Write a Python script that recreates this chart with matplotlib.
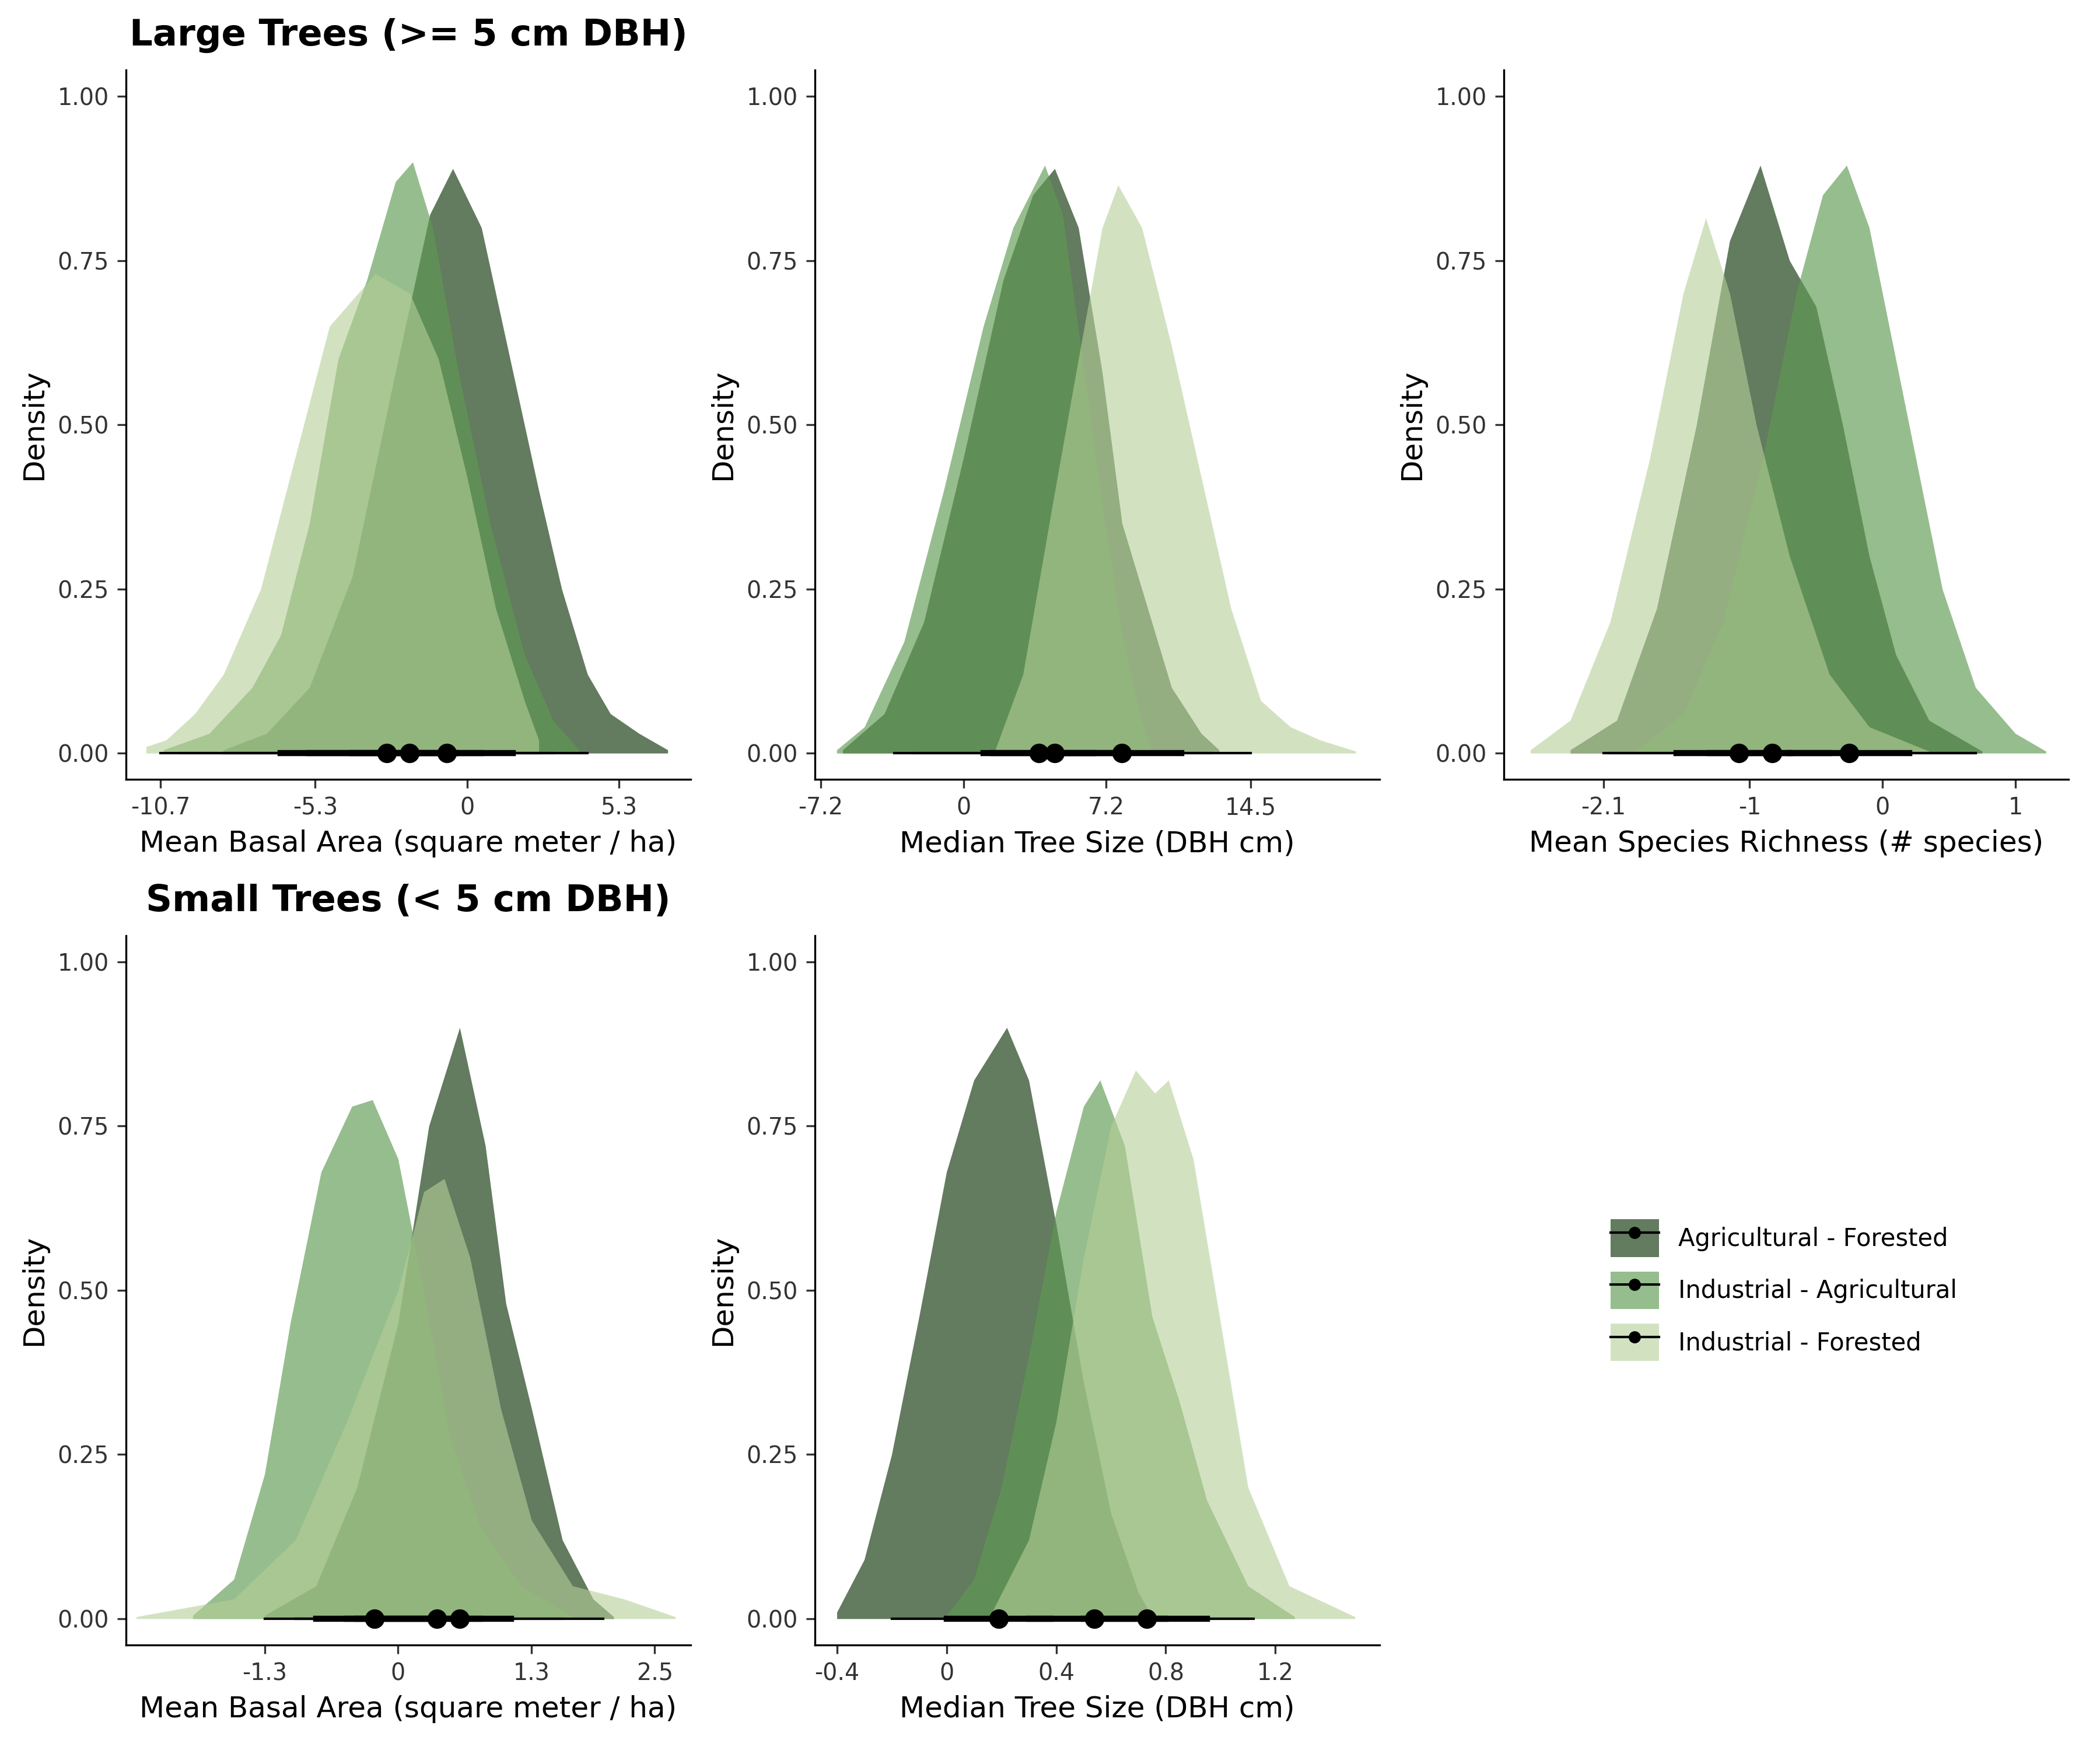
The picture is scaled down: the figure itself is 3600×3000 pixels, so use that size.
import numpy as np
import matplotlib.pyplot as plt

# ---- data (x, density) ----
series = ["Agricultural - Forested", "Industrial - Agricultural", "Industrial - Forested"]
fills = ["#2f4f2a", "#5e9a52", "#b5cf98"]
alphas = [0.75, 0.65, 0.6]

large_ba = [
    [(-8.5, .005), (-7, .03), (-5.5, .1), (-4, .27), (-2.5, .58), (-1.3, .82), (-.5, .89), (.5, .8), (1.5, .6), (2.5, .4), (3.3, .25), (4.2, .12), (5, .06), (6, .03), (7, .005)],
    [(-10.6, .005), (-9, .03), (-7.5, .1), (-6.5, .18), (-5.5, .35), (-4.5, .6), (-3.5, .72), (-2.5, .87), (-1.9, .9), (-1.2, .8), (-.3, .58), (.8, .35), (2, .15), (3, .05), (3.9, .005)],
    [(-11.2, .01), (-10.5, .02), (-9.5, .06), (-8.5, .12), (-7.2, .25), (-6, .45), (-4.8, .65), (-3.2, .73), (-2, .7), (-1, .6), (0, .42), (1, .22), (2, .08), (2.5, .02)],
]
large_size = [
    [(-6.1, .005), (-4, .06), (-2, .2), (0, .45), (2, .72), (3.5, .85), (4.6, .89), (5.8, .8), (7, .58), (8, .35), (9, .25), (10.5, .1), (12, .03), (12.9, .005)],
    [(-6.4, .005), (-5, .04), (-3, .17), (-1, .4), (1, .65), (2.5, .8), (4.1, .895), (5, .82), (6, .6), (7, .38), (8, .18), (9, .05), (9.5, .005)],
    [(1.6, .005), (3, .12), (4.5, .38), (5.8, .6), (7, .8), (7.8, .865), (9, .8), (10.5, .62), (12, .42), (13.5, .22), (15, .08), (16.5, .04), (18, .02), (19.8, .003)],
]
large_rich = [
    [(-2.35, .005), (-2, .05), (-1.7, .22), (-1.4, .5), (-1.15, .78), (-.92, .895), (-.7, .75), (-.5, .68), (-.3, .5), (-.1, .3), (.1, .15), (.35, .05), (.75, .003)],
    [(-1.85, .005), (-1.5, .06), (-1.2, .2), (-.9, .45), (-.65, .7), (-.45, .85), (-.27, .895), (-.1, .8), (.05, .65), (.25, .45), (.45, .25), (.7, .1), (1, .03), (1.23, .003)],
    [(-2.65, .005), (-2.35, .05), (-2.05, .2), (-1.75, .45), (-1.5, .7), (-1.33, .815), (-1.15, .7), (-.95, .5), (-.7, .3), (-.4, .12), (-.1, .04), (.35, .003)],
]
small_ba = [
    [(-1.3, .005), (-.8, .05), (-.4, .2), (0, .45), (.3, .75), (.6, .9), (.85, .72), (1.05, .48), (1.3, .32), (1.6, .12), (1.9, .03), (2.1, .003)],
    [(-2.0, .005), (-1.6, .06), (-1.3, .22), (-1.05, .45), (-.75, .68), (-.45, .78), (-.25, .79), (0, .7), (.25, .5), (.5, .28), (.8, .14), (1.2, .05), (1.7, .003)],
    [(-2.55, .003), (-1.6, .03), (-1.0, .12), (-.5, .3), (0, .5), (.25, .65), (.45, .67), (.7, .55), (1.0, .32), (1.3, .15), (1.7, .05), (2.2, .03), (2.7, .003)],
]
small_size = [
    [(-.4, .01), (-.3, .09), (-.2, .25), (-.1, .46), (0, .68), (.1, .82), (.22, .9), (.3, .82), (.4, .6), (.5, .36), (.6, .16), (.7, .04), (.75, .003)],
    [(0, .005), (.1, .06), (.2, .2), (.3, .4), (.4, .62), (.5, .78), (.56, .82), (.65, .72), (.75, .46), (.85, .33), (.95, .18), (1.1, .05), (1.27, .003)],
    [(.16, .005), (.3, .12), (.4, .3), (.5, .55), (.6, .75), (.69, .835), (.76, .8), (.81, .82), (.9, .7), (1.0, .45), (1.1, .2), (1.25, .05), (1.49, .003)],
]

# point intervals: (lo95, lo66, median, hi66, hi95)
iv_large_ba = [(-8.5, -4, -.7, 1.6, 4.2), (-10, -5.5, -2.0, 0.5, 3), (-10.7, -6.5, -2.8, -.4, 2.5)]
iv_large_size = [(-2.5, 1.5, 4.6, 7.5, 12.5), (-3.5, 1, 3.8, 6.5, 9), (1.8, 5, 8.0, 11, 14.5)]
iv_large_rich = [(-2.1, -1.3, -.83, -.4, .7), (-1.55, -.7, -.25, .2, .7), (-2.05, -1.55, -1.08, -.7, -.15)]
iv_small_ba = [(-1.3, -.5, .6, 1.1, 1.6), (-1.0, -.8, -.23, .3, .9), (-1.0, -.4, .38, .8, 2.0)]
iv_small_size = [(-.2, 0, .19, .38, .68), (0, .3, .54, .8, 1.1), (.2, .5, .73, .95, 1.12)]

panels = [
    (0, 0, large_ba, iv_large_ba, "Mean Basal Area (square meter / ha)", [-10.7, -5.3, 0, 5.3], ["-10.7", "-5.3", "0", "5.3"], (-11.9, 7.8)),
    (0, 1, large_size, iv_large_size, "Median Tree Size (DBH cm)", [-7.2, 0, 7.2, 14.5], ["-7.2", "0", "7.2", "14.5"], (-7.5, 21.0)),
    (0, 2, large_rich, iv_large_rich, "Mean Species Richness (# species)", [-2.1, -1, 0, 1], ["-2.1", "-1", "0", "1"], (-2.85, 1.4)),
    (1, 0, small_ba, iv_small_ba, "Mean Basal Area (square meter / ha)", [-1.3, 0, 1.3, 2.5], ["-1.3", "0", "1.3", "2.5"], (-2.65, 2.85)),
    (1, 1, small_size, iv_small_size, "Median Tree Size (DBH cm)", [-0.4, 0, 0.4, 0.8, 1.2], ["-0.4", "0", "0.4", "0.8", "1.2"], (-0.48, 1.58)),
]

plt.rcParams['font.family'] = ['DejaVu Sans']
fig, axes = plt.subplots(2, 3, figsize=(12, 10), dpi=300)
fig.subplots_adjust(left=0.06, right=0.985, top=0.96, bottom=0.06, wspace=0.22, hspace=0.22)

for r, c, curves, ivs, xlabel, ticks, tlabels, xlim in panels:
    ax = axes[r, c]
    for pts, col, a in zip(curves, fills, alphas):
        x = [p[0] for p in pts]
        y = [p[1] for p in pts]
        ax.fill_between(x, 0, y, color=col, alpha=a, linewidth=0)
    for lo95, lo66, med, hi66, hi95 in ivs:
        ax.plot([lo95, hi95], [0, 0], color="black", lw=1.0, zorder=5)
        ax.plot([lo66, hi66], [0, 0], color="black", lw=2.5, zorder=5)
        ax.plot(med, 0, "o", color="black", ms=7, zorder=6)
    ax.set_xlim(*xlim)
    ax.set_ylim(-0.04, 1.04)
    ax.set_yticks([0, .25, .5, .75, 1.0])
    ax.set_yticklabels(["0.00", "0.25", "0.50", "0.75", "1.00"])
    ax.set_xticks(ticks)
    ax.set_xticklabels(tlabels)
    ax.set_xlabel(xlabel, fontsize=12)
    ax.set_ylabel("Density", fontsize=12)
    ax.tick_params(labelsize=9.5, colors="#333333")
    for s in ["top", "right"]:
        ax.spines[s].set_visible(False)

axes[0, 0].set_title("Large Trees (>= 5 cm DBH)", fontsize=15, fontweight="bold", pad=10)
axes[1, 0].set_title("Small Trees (< 5 cm DBH)", fontsize=15, fontweight="bold", pad=10)

# legend panel
lax = axes[1, 2]
lax.axis("off")
from matplotlib.patches import Patch
from matplotlib.lines import Line2D
handles = []
for col, a in zip(fills, alphas):
    handles.append((Patch(facecolor=col, alpha=a, edgecolor="none"),
                    Line2D([], [], color="black", marker="o", ms=4, lw=1)))
lax.legend(handles, series, loc="center left", bbox_to_anchor=(0.15, 0.5), frameon=False,
           fontsize=10, handlelength=2.0, handleheight=2.0, labelspacing=0.6)

fig.savefig("out.png", dpi=300)
